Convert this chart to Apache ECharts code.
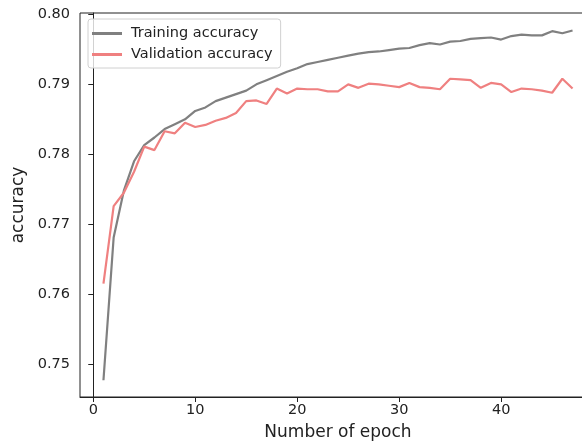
<!DOCTYPE html>
<html>
<head>
<meta charset="utf-8">
<script src="https://cdn.jsdelivr.net/npm/echarts@6/dist/echarts.min.js"></script>
<style>html,body{margin:0;padding:0;background:#fff;}#c{width:582px;height:443px;}</style>
</head>
<body>
<div id="c"></div>
<script>
const epochs = Array.from({length: 47}, (_, i) => i + 1);
const trainAcc = [0.7477,0.7681,0.7748,0.7790,0.7813,0.7824,0.7836,0.7843,0.7850,0.7862,
  0.7867,0.7876,0.7881,0.7886,0.7891,0.7900,0.7906,0.7912,0.7918,0.7923,
  0.7929,0.7932,0.7935,0.7938,0.7941,0.7944,0.7946,0.7947,0.7949,0.7951,
  0.7952,0.7956,0.7959,0.7957,0.7961,0.7962,0.7965,0.7966,0.7967,0.7964,
  0.7969,0.7971,0.7970,0.7970,0.7976,0.7973,0.7977];
const valAcc = [0.7615,0.7726,0.7745,0.7775,0.7811,0.7806,0.7833,0.7830,0.7845,0.7839,
  0.7842,0.7848,0.7852,0.7859,0.7876,0.7877,0.7872,0.7894,0.7887,0.7894,
  0.7893,0.7893,0.7890,0.7890,0.7900,0.7895,0.7901,0.7900,0.7898,0.7896,
  0.7902,0.7896,0.7895,0.7893,0.7908,0.7907,0.7906,0.7895,0.7902,0.7900,
  0.7889,0.7894,0.7893,0.7891,0.7888,0.7908,0.7894];
const xTicks = [0, 10, 20, 30, 40];
const yTicks = [0.75, 0.76, 0.77, 0.78, 0.79, 0.80];
const seriesNames = ['Training accuracy', 'Validation accuracy'];

const chart = echarts.init(document.getElementById('c'), null, {renderer: 'canvas'});
const font = 'DejaVu Sans';
chart.setOption({
  animation: false,
  backgroundColor: '#fff',
  grid: {left: 80, width: 516, top: 13, height: 384, show: true, borderColor: '#222', borderWidth: 1,
    containLabel: false, outerBoundsMode: 'none'},
  legend: {
    left: 88, top: 19, orient: 'vertical',
    data: seriesNames,
    icon: 'rect', itemWidth: 30, itemHeight: 3, itemGap: 6,
    padding: [7, 8, 6, 4],
    backgroundColor: 'rgba(255,255,255,0.8)',
    borderColor: '#d0d0d0', borderWidth: 1, borderRadius: 3,
    textStyle: {fontFamily: font, fontSize: 14.5, color: '#222', padding: [0, 0, 0, 4]}
  },
  xAxis: {
    type: 'value', min: -1.3, max: 49.3,
    name: 'Number of epoch', nameLocation: 'middle', nameGap: 27,
    nameTextStyle: {fontFamily: font, fontSize: 17, color: '#222'},
    axisLine: {show: true, lineStyle: {color: '#222', width: 1}},
    axisTick: {show: true, length: 5, customValues: xTicks, lineStyle: {color: '#222'}},
    axisLabel: {customValues: xTicks, fontFamily: font, fontSize: 14.5, color: '#222', margin: 6},
    splitLine: {show: false}
  },
  yAxis: {
    type: 'value', min: 0.7453, max: 0.8002,
    name: 'accuracy', nameLocation: 'middle', nameGap: 45, nameRotate: 90,
    nameTextStyle: {fontFamily: font, fontSize: 17, color: '#222'},
    axisLine: {show: true, lineStyle: {color: '#222', width: 1}},
    axisTick: {show: true, length: 5, customValues: yTicks, lineStyle: {color: '#222'}},
    axisLabel: {customValues: yTicks, fontFamily: font, fontSize: 14.5, color: '#222', margin: 10,
      formatter: v => v.toFixed(2)},
    splitLine: {show: false}
  },
  series: [
    {name: seriesNames[0], type: 'line', symbol: 'none', data: epochs.map((e, i) => [e, trainAcc[i]]),
     lineStyle: {color: '#808080', width: 2.2}, itemStyle: {color: '#808080'}},
    {name: seriesNames[1], type: 'line', symbol: 'none', data: epochs.map((e, i) => [e, valAcc[i]]),
     lineStyle: {color: '#ef8080', width: 2.2}, itemStyle: {color: '#ef8080'}}
  ]
});
</script>
</body>
</html>
